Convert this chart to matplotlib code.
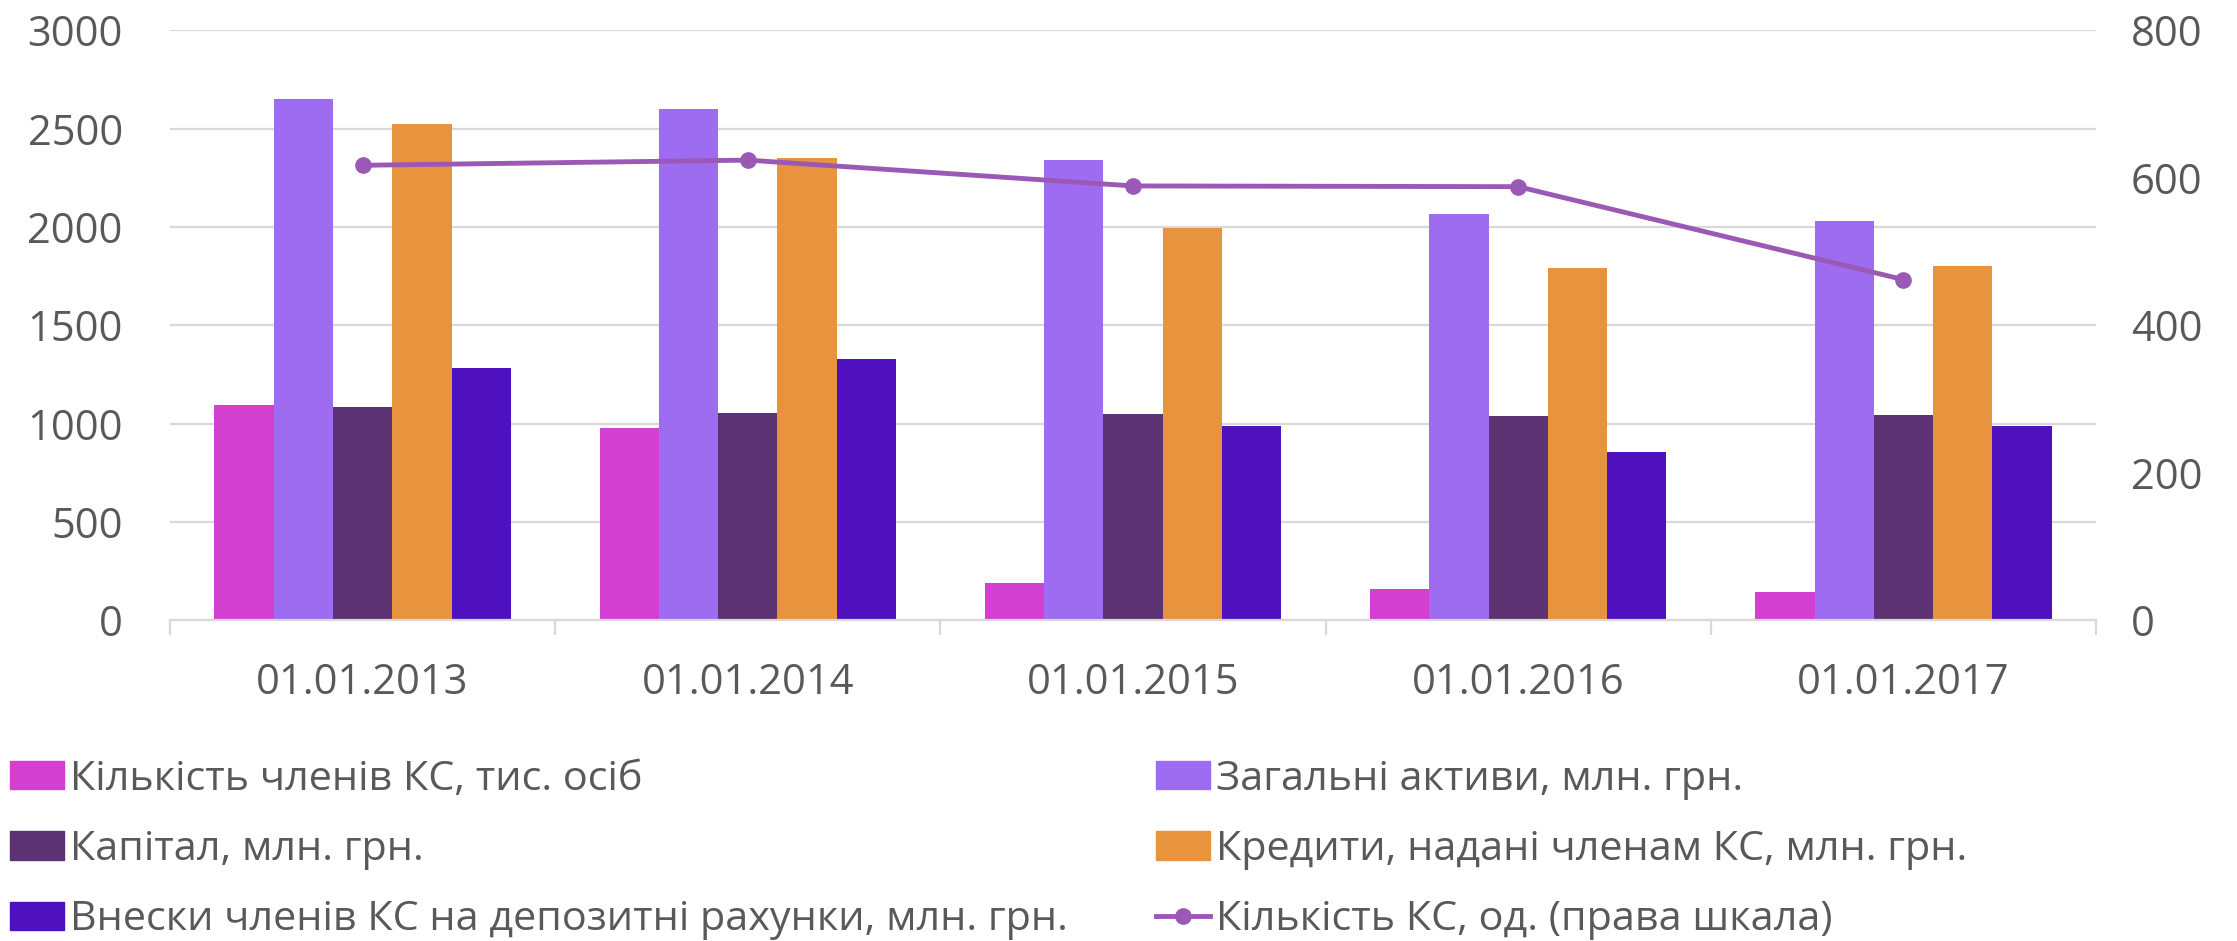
import matplotlib
matplotlib.use("Agg")
import matplotlib.pyplot as plt
import numpy as np
from matplotlib.lines import Line2D
from matplotlib.patches import Patch

plt.rcParams['font.family'] = ['Open Sans', 'DejaVu Sans']

categories = ["01.01.2013", "01.01.2014", "01.01.2015", "01.01.2016", "01.01.2017"]

members = [1095, 978, 188, 160, 146]          # Кількість членів КС, тис. осіб
assets = [2650, 2598, 2339, 2064, 2033]       # Загальні активи, млн. грн.
capital = [1084, 1054, 1048, 1039, 1044]      # Капітал, млн. грн.
credits = [2523, 2349, 1993, 1790, 1800]      # Кредити, надані членам КС, млн. грн.
deposits = [1283, 1329, 988, 855, 989]        # Внески членів КС на депозитні рахунки, млн. грн.
unions = [617, 624, 589, 588, 462]            # Кількість КС, од. (права шкала)

bar_labels = ["Кількість членів КС, тис. осіб",
              "Загальні активи, млн. грн.",
              "Капітал, млн. грн.",
              "Кредити, надані членам КС, млн. грн.",
              "Внески членів КС на депозитні рахунки, млн. грн."]
line_label = "Кількість КС, од. (права шкала)"

left_ticks = [0, 500, 1000, 1500, 2000, 2500, 3000]
right_ticks = [0, 200, 400, 600, 800]

colors = ['#D33FCE', '#9D6CF0', '#5C3273', '#E8933D', '#4F10BE']
line_color = '#9B59B6'
text_color = '#595959'
grid_color = '#D9D9D9'

fig = plt.figure(figsize=(22.37, 9.41), dpi=100)
ax = fig.add_axes([0.076, 0.3407, 0.861, 0.6271])

x = np.arange(len(categories))
w = 1 / 6.5
series = [members, assets, capital, credits, deposits]
for i, (vals, c) in enumerate(zip(series, colors)):
    ax.bar(x + (i - 2) * w, vals, width=w, color=c, linewidth=0, zorder=2)

ax.set_xlim(-0.5, len(categories) - 0.5)
ax.set_ylim(0, 3000)
ax.set_yticks(left_ticks)
ax.set_yticklabels([str(t) for t in left_ticks])
ax.set_xticks(x)
ax.set_xticklabels(categories)
ax.set_xticks(np.arange(-0.5, len(categories), 1.0), minor=True)
ax.yaxis.grid(True, color=grid_color, linewidth=1.6, zorder=0)
ax.set_axisbelow(True)
for s in ['left', 'right', 'top']:
    ax.spines[s].set_visible(False)
ax.spines['bottom'].set_color(grid_color)
ax.spines['bottom'].set_linewidth(1.6)
ax.tick_params(axis='y', length=0, pad=34, labelsize=30, labelcolor=text_color)
ax.tick_params(axis='x', which='major', length=0, pad=30, labelsize=30, labelcolor=text_color)
ax.tick_params(axis='x', which='minor', length=11, width=1.6, color=grid_color)

ax2 = ax.twinx()
ax2.plot(x, unions, color=line_color, linewidth=3.5, marker='o', markersize=11, zorder=5)
ax2.set_ylim(0, 800)
ax2.set_yticks(right_ticks)
ax2.set_yticklabels([str(t) for t in right_ticks])
for s in ['left', 'right', 'top', 'bottom']:
    ax2.spines[s].set_visible(False)
ax2.tick_params(axis='y', length=0, pad=25, labelsize=30, labelcolor=text_color)

line_handle = Line2D([0], [0], color=line_color, linewidth=3.5, marker='o', markersize=11)
leg_kw = dict(frameon=False, fontsize=29.8, labelcolor=text_color, handlelength=1.3,
              handleheight=0.68, handletextpad=0.15, labelspacing=0.72,
              borderpad=0, borderaxespad=0, loc='center left')
fig.legend([Patch(color=colors[0]), Patch(color=colors[2]), Patch(color=colors[4])],
           [bar_labels[0], bar_labels[2], bar_labels[4]],
           bbox_to_anchor=(0.0045, 0.097), bbox_transform=fig.transFigure, **leg_kw)
fig.legend([Patch(color=colors[1]), Patch(color=colors[3]), line_handle],
           [bar_labels[1], bar_labels[3], line_label],
           bbox_to_anchor=(0.5168, 0.097), bbox_transform=fig.transFigure, **leg_kw)

fig.savefig("out.png", dpi=100, facecolor='white')
